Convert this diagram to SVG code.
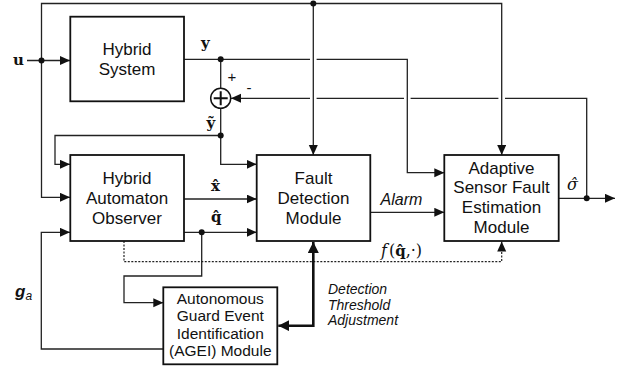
<svg xmlns="http://www.w3.org/2000/svg" width="627" height="372" viewBox="0 0 627 372">
<style>
.box{fill:#fff;stroke:#111;stroke-width:1.8}
.ln{fill:none;stroke:#222;stroke-width:1.3}
.dot{fill:none;stroke:#222;stroke-width:1.2;stroke-dasharray:2 1.5}
.thick{fill:none;stroke:#111;stroke-width:2.6}
.t{font-family:"Liberation Sans",Arial,sans-serif;font-size:17px;fill:#111;text-anchor:middle}
.ts{font-family:"Liberation Sans",Arial,sans-serif;font-size:15.5px;fill:#111;text-anchor:middle}
.it{font-family:"Liberation Sans",Arial,sans-serif;font-style:italic;fill:#111}
.m{font-family:"DejaVu Serif","Liberation Serif",serif;font-weight:bold;font-size:15px;fill:#111}
.mi{font-family:"DejaVu Serif","Liberation Serif",serif;font-style:italic;font-size:16px;fill:#111}
.jd{fill:#111}
</style>
<defs>
<marker id="ar" markerUnits="userSpaceOnUse" markerWidth="12" markerHeight="10" refX="10" refY="4.5" orient="auto">
<path d="M0,0 L10,4.5 L0,9 z" fill="#111"/>
</marker>
<marker id="arT" markerUnits="userSpaceOnUse" markerWidth="14" markerHeight="12" refX="11" refY="5.5" orient="auto-start-reverse">
<path d="M0,0 L11,5.5 L0,11 z" fill="#111"/>
</marker>
</defs>

<g id="connectors">
<path class="ln" d="M27,60.5 H70" marker-end="url(#ar)"/>
<path class="ln" d="M41.5,60.5 V3.5 H501.7 V155" marker-end="url(#ar)"/>
<path class="ln" d="M41.5,60.5 V197.3 H70" marker-end="url(#ar)"/>
<path class="ln" d="M313.3,3.5 V155" marker-end="url(#ar)"/>
<path class="ln" d="M184,59.3 H310"/>
<path class="ln" d="M316.6,59.3 H407.3 V172.7 H444.3" marker-end="url(#ar)"/>
<path class="ln" d="M220.7,59.3 V88.3"/>
<path class="ln" d="M586.7,198.3 V98.3 H505"/>
<path class="ln" d="M498.4,98.3 H410.6"/>
<path class="ln" d="M404,98.3 H316.6"/>
<path class="ln" d="M310,98.3 H231" marker-end="url(#ar)"/>
<path class="ln" d="M220.7,108.3 V164.3 H256.7" marker-end="url(#ar)"/>
<path class="ln" d="M220.7,135.5 H55 V164.3 H70" marker-end="url(#ar)"/>
<path class="ln" d="M184,199 H256.7" marker-end="url(#ar)"/>
<path class="ln" d="M184,232.3 H256.7" marker-end="url(#ar)"/>
<path class="ln" d="M201.7,232.3 V276 H124 V302.7 H163.3" marker-end="url(#ar)"/>
<path class="ln" d="M163.3,349 H41.3 V232.3 H70" marker-end="url(#ar)"/>
<path class="dot" d="M124,241 V261.7 H501.7 V241.5" marker-end="url(#ar)"/>
<path class="thick" d="M313.3,242 V325.7 H278.3" marker-start="url(#arT)" marker-end="url(#arT)"/>
<path class="ln" d="M370.3,212.3 H444.3" marker-end="url(#ar)"/>
<path class="ln" d="M558.7,198.3 H615" marker-end="url(#ar)"/>
<circle class="jd" cx="41.5" cy="60.5" r="3"/>
<circle class="jd" cx="313.3" cy="3.5" r="3"/>
<circle class="jd" cx="220.7" cy="59.3" r="3"/>
<circle class="jd" cx="220.7" cy="135.5" r="3"/>
<circle class="jd" cx="201.7" cy="232.3" r="3"/>
<circle class="jd" cx="586.7" cy="198.3" r="3"/>
</g>

<g id="summer">
<circle cx="220.7" cy="98.3" r="10" fill="#fff" stroke="#111" stroke-width="1.5"/>
<path d="M213.7,98.3 H227.7 M220.7,91.3 V105.3" stroke="#111" stroke-width="2"/>
<text x="232" y="82" class="ts" style="font-size:15px">+</text>
<text x="249" y="93" class="ts" style="font-size:15px">-</text>
</g>

<g id="hybrid-system">
<rect class="box" x="70.3" y="16.7" width="113.7" height="84.6"/>
<text class="t" x="127" y="55">Hybrid</text>
<text class="t" x="127" y="75">System</text>
</g>

<g id="observer">
<rect class="box" x="70.3" y="155" width="113.7" height="86"/>
<text class="t" x="127" y="184">Hybrid</text>
<text class="t" x="127" y="204">Automaton</text>
<text class="t" x="127" y="224">Observer</text>
</g>

<g id="fault-detection">
<rect class="box" x="256.7" y="155" width="113.6" height="86"/>
<text class="t" x="313.5" y="184">Fault</text>
<text class="t" x="313.5" y="204">Detection</text>
<text class="t" x="313.5" y="224">Module</text>
</g>

<g id="adaptive">
<rect class="box" x="444.3" y="155" width="114.4" height="86"/>
<text class="t" x="501.5" y="173.5">Adaptive</text>
<text class="t" x="501.5" y="193">Sensor Fault</text>
<text class="t" x="501.5" y="213">Estimation</text>
<text class="t" x="501.5" y="233">Module</text>
</g>

<g id="agei">
<rect class="box" x="163.3" y="287.3" width="114" height="77"/>
<text class="ts" x="220.3" y="303.5">Autonomous</text>
<text class="ts" x="220.3" y="321">Guard Event</text>
<text class="ts" x="220.3" y="338.5">Identification</text>
<text class="ts" x="220.3" y="356">(AGEI) Module</text>
</g>

<g id="labels">
<text class="m" x="13" y="65">u</text>
<text class="m" x="201" y="48">y</text>
<text class="m" x="206.5" y="128">ỹ</text>
<text class="m" x="211" y="190.7">x̂</text>
<text class="m" x="211" y="222">q̂</text>
<text class="mi" x="567" y="190">σ̂</text>
<text class="mi" x="381" y="256">f<tspan dx="2" style="font-style:normal">(</tspan><tspan style="font-style:normal;font-weight:bold;font-size:15px">q̂</tspan><tspan style="font-style:normal">,·)</tspan></text>
<text class="it" x="380.5" y="205" style="font-size:16px">Alarm</text>
<text class="it" x="328" y="294" style="font-size:14px">Detection</text>
<text class="it" x="328" y="309.5" style="font-size:14px">Threshold</text>
<text class="it" x="328" y="325" style="font-size:14px">Adjustment</text>
<text class="it" x="15" y="297" style="font-size:17px;font-weight:bold">g<tspan dy="3" style="font-size:12px;font-weight:normal">a</tspan></text>
</g>
</svg>
